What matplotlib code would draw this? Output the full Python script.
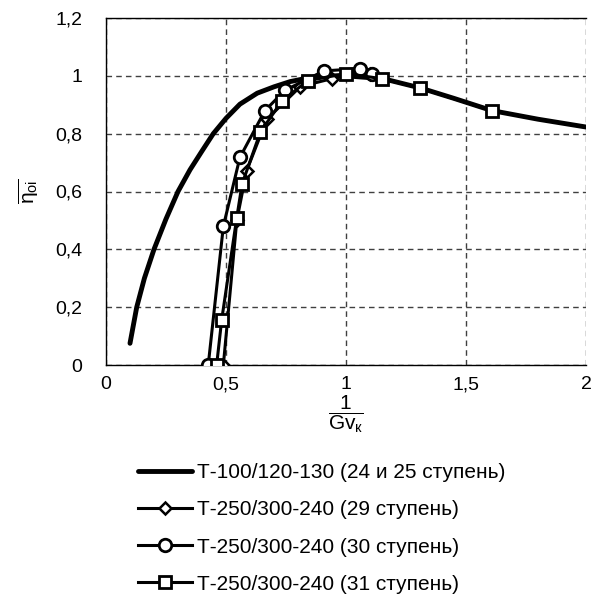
import matplotlib
matplotlib.use('Agg')
import matplotlib.pyplot as plt
from matplotlib.ticker import FuncFormatter

plt.rcParams['font.family'] = ['Liberation Sans', 'DejaVu Sans']
plt.rcParams['mathtext.fontset'] = 'custom'
plt.rcParams['mathtext.rm'] = 'Liberation Sans'
plt.rcParams['mathtext.it'] = 'Liberation Sans'
plt.rcParams['mathtext.bf'] = 'Liberation Sans:bold'

# Данные
x_t100 = [0.10, 0.128, 0.16, 0.20, 0.25, 0.30, 0.35, 0.40, 0.447, 0.50, 0.558, 0.63, 0.70, 0.767, 0.85, 0.93, 1.00,
          1.155, 1.31, 1.45, 1.607, 1.80, 2.00]
y_t100 = [0.075, 0.20, 0.30, 0.40, 0.505, 0.60, 0.675, 0.74, 0.80, 0.853, 0.902, 0.94, 0.962, 0.98, 0.994, 1.0, 1.0,
          0.99, 0.958, 0.922, 0.88, 0.85, 0.823]

x_29 = [0.489, 0.545, 0.586, 0.67, 0.81, 0.94, 1.06, 1.10]
y_29 = [0.0, 0.50, 0.672, 0.85, 0.963, 0.99, 1.02, 1.005]

x_30 = [0.426, 0.489, 0.558, 0.6625, 0.746, 0.908, 1.058, 1.107]
y_30 = [0.0, 0.48, 0.718, 0.88, 0.95, 1.017, 1.025, 1.008]

x_31 = [0.461, 0.482, 0.545, 0.567, 0.643, 0.732, 0.84, 1.0, 1.15, 1.308, 1.607]
y_31 = [0.0, 0.156, 0.51, 0.626, 0.805, 0.912, 0.983, 1.008, 0.99, 0.958, 0.88]

labels = ['Т-100/120-130 (24 и 25 ступень)',
          'Т-250/300-240 (29 ступень)',
          'Т-250/300-240 (30 ступень)',
          'Т-250/300-240 (31 ступень)']

fig = plt.figure(figsize=(6.02, 5.99), dpi=100)
ax = fig.add_axes([106 / 602, 1 - 365 / 599, 480 / 602, 347 / 599])

ax.plot(x_t100, y_t100, color='black', lw=3.5, label=labels[0], zorder=3,
        solid_joinstyle='round', solid_capstyle='round')
ax.plot(x_29, y_29, color='black', lw=2.2, marker='D', ms=6.5, mfc='white', mec='black', mew=1.8,
        label=labels[1], zorder=4)
ax.plot(x_30, y_30, color='black', lw=2.2, marker='o', ms=9, mfc='white', mec='black', mew=2,
        label=labels[2], zorder=5)
ax.plot(x_31, y_31, color='black', lw=2.2, marker='s', ms=8.5, mfc='white', mec='black', mew=2,
        label=labels[3], zorder=6)

ax.set_xlim(0, 2)
ax.set_ylim(0, 1.2)
ax.set_xticks([0, 0.5, 1, 1.5, 2])
ax.set_yticks([0, 0.2, 0.4, 0.6, 0.8, 1.0, 1.2])

fmt = FuncFormatter(lambda v, p: ('%g' % v).replace('.', ','))
ax.xaxis.set_major_formatter(fmt)
ax.yaxis.set_major_formatter(fmt)
ax.tick_params(axis='both', length=0, labelsize=14)
ax.tick_params(axis='y', pad=17)
ax.tick_params(axis='x', pad=8)

ax.grid(True, color='#404040', linestyle=(0, (4, 3)), linewidth=1)
ax.set_axisbelow(True)
for s in ['left', 'bottom', 'top']:
    ax.spines[s].set_linewidth(1)
    ax.spines[s].set_color('black')
ax.spines['right'].set_visible(False)

ax.set_ylabel(r'$\overline{\eta_{oi}}$', fontsize=15, labelpad=10)
ax.set_xlabel(r'$\dfrac{1}{Gv_{к}}$', fontsize=15, labelpad=0)

fig.legend(loc='center left', bbox_to_anchor=(138 / 602, 1 - 528.5 / 599), frameon=False,
           fontsize=15, handlelength=2.6, handletextpad=0.25, labelspacing=0.87,
           borderpad=0, borderaxespad=0)

fig.savefig('out.png', dpi=100)
